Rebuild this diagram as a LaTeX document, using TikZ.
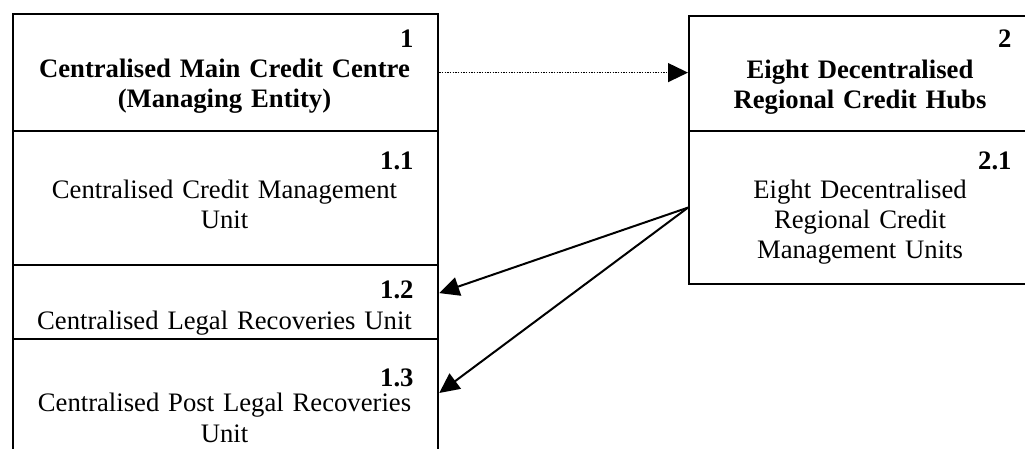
\documentclass[tikz,border=0pt]{standalone}
\usepackage{fontspec}
\setmainfont{Liberation Serif}
\usetikzlibrary{arrows.meta}
\tikzset{
  cell/.style={draw, line width=1pt, anchor=north west, inner sep=0pt},
  lcell/.style={cell, minimum width=191.25pt},
  rcell/.style={cell, minimum width=154.8pt},
  num/.style={anchor=base east, inner sep=0pt, font=\fontsize{12}{13.5}\selectfont\bfseries},
  txt/.style={anchor=base, inner sep=0pt, text width=185pt, align=center, font=\fontsize{12}{13.5}\selectfont},
  link/.style={line width=0.9pt, -{Triangle[length=9pt,width=8.5pt]}}
}
\begin{document}
\begin{tikzpicture}[x=0.45pt,y=-0.45pt]
    \path[use as bounding box, clip] (0,0) rectangle (1025,449);
    %Left stack
    \node[lcell, minimum height=52.65pt] (box1) at (12,13) {};
    \node[lcell, minimum height=60.3pt] (box11) at (12,130) {};
    \node[lcell, minimum height=33.3pt] (box12) at (12,264) {};
    \node[lcell, minimum height=59.4pt] (box13) at (12,338) {};
    \node[num] (n1) at (414,48) {1};
    \node[txt, font=\fontsize{12}{13.5}\selectfont\bfseries] (t1) at (224.5,78) {Centralised Main Credit Centre\\(Managing Entity)};
    \node[num] (n11) at (414,170) {1.1};
    \node[txt] (t11) at (224.5,199) {Centralised Credit Management\\Unit};
    \node[num] (n12) at (414,299) {1.2};
    \node[txt] (t12) at (224.5,330) {Centralised Legal Recoveries Unit};
    \node[num] (n13) at (414,387) {1.3};
    \node[txt] (t13) at (224.5,412) {Centralised Post Legal Recoveries\\Unit};
    %Right stack
    \node[rcell, minimum height=51.75pt] (box2) at (688,15) {};
    \node[rcell, minimum height=68.85pt] (box21) at (688,130) {};
    \node[num] (n2) at (1012,48) {2};
    \node[txt, text width=150pt, font=\fontsize{12}{13.5}\selectfont\bfseries] (t2) at (860,79) {Eight Decentralised\\Regional Credit Hubs};
    \node[num] (n21) at (1012,170) {2.1};
    \node[txt, text width=150pt] (t21) at (860,199) {Eight Decentralised\\Regional Credit\\Management Units};
    %Links
    \draw[link, line width=0.7pt, dash pattern=on 0.7pt off 0.5pt] (box1.east) -- (box1.east -| box2.west);
    \draw[link] (box21.west) -- ([yshift=4.05pt]box12.east);
    \draw[link] (box21.west) -- ([yshift=-24.75pt]box13.north east);
\end{tikzpicture}
\end{document}
